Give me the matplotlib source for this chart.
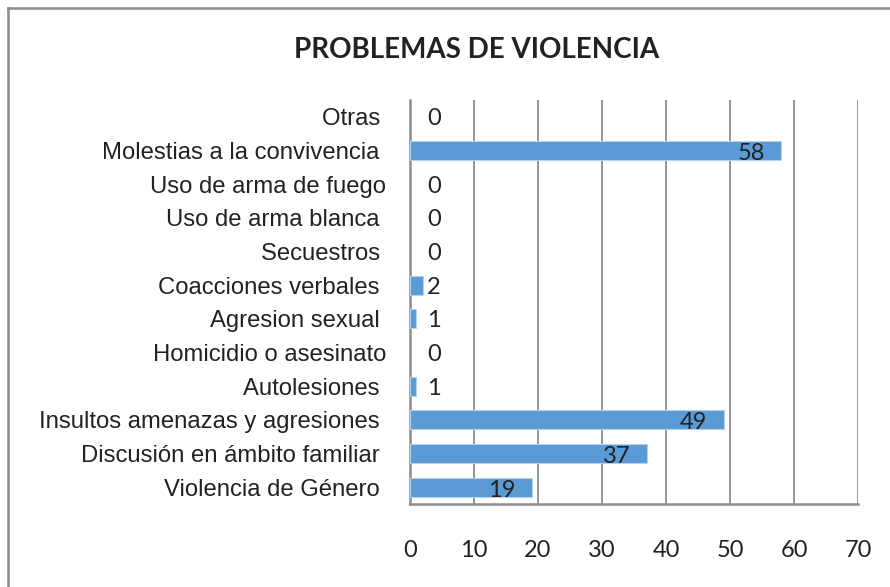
import numpy as np
import matplotlib.pyplot as plt
from matplotlib.lines import Line2D

# datos (de abajo hacia arriba, como en Excel)
categorias = ["Violencia de Género ", "Discusión en ámbito familiar ",
              "Insultos amenazas y agresiones ", "Autolesiones ",
              "Homicidio o asesinato", "Agresion sexual ",
              "Coacciones verbales ", "Secuestros ", "Uso de arma blanca ",
              "Uso de arma de fuego", "Molestias a la convivencia ", "Otras "]
valores = [19, 37, 49, 1, 0, 1, 2, 0, 0, 0, 58, 0]
xticks = [0, 10, 20, 30, 40, 50, 60, 70]

W, H = 890, 587
fig = plt.figure(figsize=(W / 100, H / 100), dpi=100)
ax = fig.add_axes([410 / W, 1 - 504 / H, (858 - 410) / W, (504 - 100) / H])

gris = "#8c8c8c"
y = np.arange(len(categorias))
anchos = [0.8 if v > 0 else 0 for v in valores]
ax.barh(y, valores, height=0.56, color="#5b9bd5", edgecolor="#b4d0ee",
        linewidth=anchos, zorder=3)

ax.set_xlim(0, 70)
ax.set_ylim(-0.5, len(categorias) - 0.5)
ax.set_xticks(xticks)
ax.set_xticklabels([str(t) for t in xticks], family="Lato", fontsize=17,
                   color="#222222")
ax.set_yticks(y)
ax.set_yticklabels(categorias, family="Liberation Sans", fontsize=17.2,
                   color="#222222")
ax.tick_params(axis="x", length=0, pad=26)
ax.tick_params(axis="y", length=0, pad=17)
ax.grid(axis="x", color=gris, linewidth=1.3, zorder=0)
for s in ["top", "right"]:
    ax.spines[s].set_visible(False)
for s in ["left", "bottom"]:
    ax.spines[s].set_color(gris)
    ax.spines[s].set_linewidth(1.8)

# etiquetas de valor
for yi, v in zip(y, valores):
    if v >= 10:
        ax.annotate(str(v), (v, yi), xytext=(-16, -3), textcoords="offset pixels",
                    ha="right", va="center", family="Lato", fontsize=17,
                    color="#222222", zorder=4)
    else:
        ax.annotate(str(v), (0, yi), xytext=(17, -2), textcoords="offset pixels",
                    ha="left", va="center", family="Lato", fontsize=17,
                    color="#222222", zorder=4)

fig.text(477 / W, 1 - 50 / H, "PROBLEMAS DE VIOLENCIA", family="Lato",
         fontweight="bold", fontsize=20, ha="center", va="center",
         color="#222222")

# marco exterior
fig.add_artist(Line2D([8 / W, 1], [1 - 8 / H, 1 - 8 / H], transform=fig.transFigure,
                      color=gris, linewidth=1.8))
fig.add_artist(Line2D([8 / W, 8 / W], [0, 1 - 8 / H], transform=fig.transFigure,
                      color=gris, linewidth=1.8))

fig.savefig("out.png", dpi=100)
